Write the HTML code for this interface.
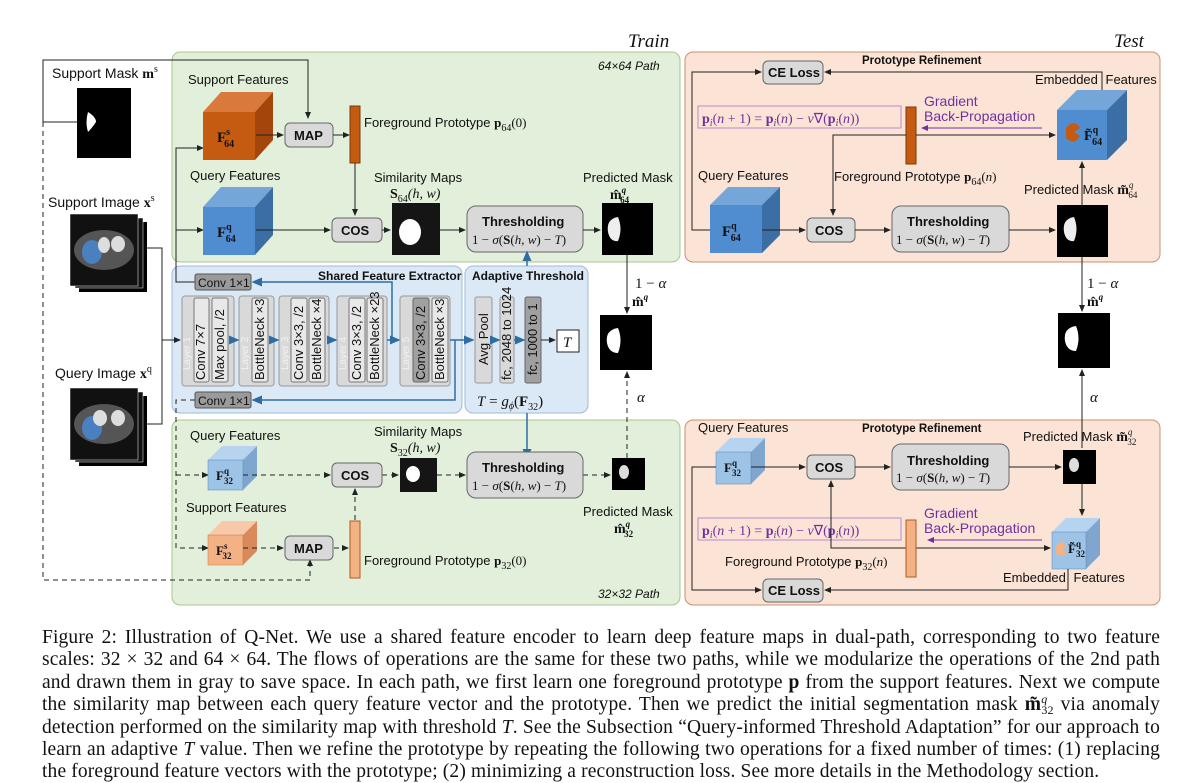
<!DOCTYPE html>
<html><head><meta charset="utf-8"><style>
body{margin:0;background:#fff;width:1183px;height:783px;overflow:hidden;position:relative}
svg{position:absolute;left:0;top:0}
text{font-family:"Liberation Sans",sans-serif;font-size:13px;fill:#111}
.b{font-weight:bold}
.s{font-family:"Liberation Serif",serif}
.w{fill:#f2f2f2;font-size:10px}
.cap{position:absolute;left:42px;width:1118px;height:22px;font-family:"Liberation Serif",serif;font-size:19.5px;letter-spacing:0.14px;color:#111;text-align:justify;text-align-last:justify;white-space:nowrap;line-height:22px}
.cap.l{text-align-last:left}
.sp{position:relative;font-size:12px;line-height:0}
</style></head><body>
<svg width="1183" height="620" viewBox="0 0 1183 620">
<defs>
<marker id="a" markerWidth="7" markerHeight="7" refX="6" refY="3.5" orient="auto"><path d="M0,0.5L7,3.5L0,6.5z" fill="#222"/></marker>
<marker id="ab" markerWidth="7" markerHeight="7" refX="6" refY="3.5" orient="auto"><path d="M0,0.5L7,3.5L0,6.5z" fill="#2e6da4"/></marker>
<marker id="ap" markerWidth="7" markerHeight="7" refX="6" refY="3.5" orient="auto"><path d="M0,0.5L7,3.5L0,6.5z" fill="#7030a0"/></marker>
</defs>
<rect x="172" y="52" width="508" height="210" rx="8" fill="#e2efda" stroke="#a9c48f"/>
<rect x="172" y="420" width="508" height="185" rx="8" fill="#e2efda" stroke="#a9c48f"/>
<rect x="685" y="52" width="475" height="210" rx="8" fill="#fbe3d6" stroke="#c9906f"/>
<rect x="685" y="420" width="475" height="185" rx="8" fill="#fbe3d6" stroke="#c9906f"/>
<rect x="172" y="266" width="290" height="147" rx="8" fill="#dbe8f5" stroke="#9dbbd8"/>
<rect x="465" y="266" width="123" height="147" rx="8" fill="#dbe8f5" stroke="#9dbbd8"/>
<text x="628" y="47" class="s" style="font-size:19px;font-style:italic">Train</text>
<text x="1114" y="47" class="s" style="font-size:19px;font-style:italic">Test</text>
<text x="598" y="70" style="font-size:12px;font-style:italic">64×64 Path</text>
<text x="598" y="598" style="font-size:12px;font-style:italic">32×32 Path</text>

<text x="52" y="78" style="font-size:14px">Support Mask <tspan class="s b">m</tspan><tspan class="s" dy="-6" style="font-size:10px">s</tspan></text>
<rect x="77" y="88" width="54" height="70" fill="#000"/>
<path d="M88,112 q8,5 8,10 q-4,6 -8,10 q-3,-10 0,-20z" fill="#fff"/>
<text x="48" y="207" style="font-size:14px">Support Image <tspan class="s b">x</tspan><tspan class="s" dy="-6" style="font-size:10px">s</tspan></text>
<rect x="79" y="222" width="68" height="70" fill="#000"/><rect x="75" y="218" width="68" height="70" fill="#111" stroke="#fff" stroke-width="0.5"/><rect x="70" y="214" width="68" height="72" fill="#111" stroke="#fff" stroke-width="0.5"/>
<ellipse cx="104" cy="250" rx="30" ry="20" fill="#555"/><ellipse cx="92" cy="252" rx="10" ry="12" fill="#4a7fc0"/><ellipse cx="104" cy="245" rx="6" ry="8" fill="#ddd"/><ellipse cx="118" cy="244" rx="7" ry="8" fill="#ddd"/>
<text x="55" y="378" style="font-size:14px">Query Image <tspan class="s b">x</tspan><tspan class="s" dy="-6" style="font-size:10px">q</tspan></text>
<rect x="79" y="396" width="68" height="70" fill="#000"/><rect x="75" y="392" width="68" height="70" fill="#111" stroke="#fff" stroke-width="0.5"/><rect x="70" y="388" width="68" height="72" fill="#111" stroke="#fff" stroke-width="0.5"/>
<ellipse cx="104" cy="424" rx="30" ry="20" fill="#555"/><ellipse cx="92" cy="428" rx="10" ry="12" fill="#4a7fc0"/><ellipse cx="100" cy="418" rx="7" ry="8" fill="#ddd"/><ellipse cx="118" cy="418" rx="7" ry="8" fill="#ddd"/>
<path d="M77,122H43V60H308V118" fill="none" stroke="#222" marker-end="url(#a)"/>
<path d="M43,122V580H310V560" fill="none" stroke="#222" stroke-dasharray="5,4" marker-end="url(#a)"/>
<path d="M147,248H162V340H180" fill="none" stroke="#222" marker-end="url(#a)"/>
<path d="M147,424H162V340" fill="none" stroke="#222"/>
<path d="M195,282H176V148H203" fill="none" stroke="#222" marker-end="url(#a)"/>
<path d="M176,230H203" fill="none" stroke="#222" marker-end="url(#a)"/>
<path d="M195,400H176V548H208" fill="none" stroke="#222" stroke-dasharray="5,4" marker-end="url(#a)"/>
<path d="M176,475H208" fill="none" stroke="#222" stroke-dasharray="5,4" marker-end="url(#a)"/>

<text x="188" y="84">Support Features</text>
<polygon points="203,112 221,92 273,92 255,112" fill="#d97a3c"/><polygon points="255,112 273,92 273,140 255,160" fill="#a4460c"/><rect x="203" y="112" width="52" height="48" fill="#c55a11"/>
<text x="217" y="142" class="s b" style="font-size:15px">F<tspan dy="-7" style="font-size:10px">s</tspan><tspan dx="-6" dy="12" style="font-size:10px">64</tspan></text>
<text x="190" y="180">Query Features</text>
<polygon points="203,207 221,187 273,187 255,207" fill="#74a6d9"/><polygon points="255,207 273,187 273,235 255,255" fill="#3a6ea5"/><rect x="203" y="207" width="52" height="48" fill="#4f8dd0"/>
<text x="217" y="237" class="s b" style="font-size:15px">F<tspan dy="-7" style="font-size:10px">q</tspan><tspan dx="-6" dy="12" style="font-size:10px">64</tspan></text>
<line x1="256" y1="135" x2="283" y2="135" stroke="#222" marker-end="url(#a)"/>
<rect x="285" y="123" width="48" height="24" rx="5" fill="#d9d9d9" stroke="#666"/><text x="294" y="140" class="b">MAP</text>
<line x1="333" y1="135" x2="349" y2="135" stroke="#222" marker-end="url(#a)"/>
<rect x="350" y="106" width="10" height="57" fill="#c55a11" stroke="#7a3a0c"/>
<text x="364" y="127">Foreground Prototype <tspan class="s b">p</tspan><tspan class="s" dy="4" style="font-size:10px">64</tspan><tspan class="s" dy="-4">(0)</tspan></text>
<line x1="355" y1="163" x2="355" y2="215" stroke="#222" marker-end="url(#a)"/>
<line x1="256" y1="230" x2="330" y2="230" stroke="#222" marker-end="url(#a)"/>
<rect x="332" y="218" width="50" height="24" rx="5" fill="#d9d9d9" stroke="#666"/><text x="341" y="235" class="b">COS</text>
<text x="374" y="182">Similarity Maps</text>
<text x="390" y="198" class="s" style="font-size:14px"><tspan class="b">S</tspan><tspan dy="4" style="font-size:10px">64</tspan><tspan dy="-4" font-style="italic">(h, w)</tspan></text>
<line x1="382" y1="230" x2="390" y2="230" stroke="#222" marker-end="url(#a)"/>
<rect x="392" y="203" width="48" height="52" fill="#151515"/><ellipse cx="410" cy="232" rx="11" ry="13" fill="#fff"/>
<line x1="440" y1="230" x2="465" y2="230" stroke="#222" marker-end="url(#a)"/>
<rect x="467" y="206" width="116" height="46" rx="9" fill="#d9d9d9" stroke="#666"/>
<text x="482" y="226" class="b">Thresholding</text>
<text x="472" y="244" class="s" style="font-size:13px">1 − <tspan font-style="italic">σ</tspan>(<tspan class="b">S</tspan>(<tspan font-style="italic">h, w</tspan>) − <tspan font-style="italic">T</tspan>)</text>
<line x1="583" y1="230" x2="600" y2="230" stroke="#222" marker-end="url(#a)"/>
<text x="583" y="182">Predicted Mask</text>
<text x="610" y="199" class="s b" style="font-size:14px">m̂<tspan dy="-6" style="font-size:9px;font-style:italic">q</tspan><tspan dx="-6" dy="10" style="font-size:9px">64</tspan></text>
<rect x="602" y="203" width="51" height="52" fill="#000"/><path d="M618,217 q-12,2 -10,15 q2,10 10,9 q5,-12 0,-24z" fill="#eee"/>
<line x1="627" y1="255" x2="627" y2="313" stroke="#222" marker-end="url(#a)"/>
<text x="635" y="288" class="s" style="font-size:15px">1 − <tspan font-style="italic">α</tspan></text>
<text x="632" y="306" class="s b" style="font-size:14px">m̂<tspan dy="-6" style="font-size:9px;font-style:italic">q</tspan></text>
<rect x="600" y="315" width="52" height="55" fill="#000"/><path d="M618,328 q-13,2 -11,15 q2,10 11,10 q5,-13 0,-25z" fill="#fff"/>
<line x1="627" y1="458" x2="627" y2="372" stroke="#222" stroke-dasharray="5,4" marker-end="url(#a)"/>
<text x="637" y="402" class="s" style="font-size:15px;font-style:italic">α</text>

<text x="318" y="280" class="b" style="font-size:12px">Shared Feature Extractor</text>
<text x="472" y="280" class="b" style="font-size:12px">Adaptive Threshold</text>
<rect x="195" y="274" width="56" height="16" rx="2" fill="#9a9a9a" stroke="#555"/><text x="198" y="287" style="font-size:12px">Conv 1×1</text>
<rect x="195" y="392" width="56" height="16" rx="2" fill="#9a9a9a" stroke="#555"/><text x="198" y="405" style="font-size:12px">Conv 1×1</text>
<g fill="#d9d9d9" stroke="#999">
<rect x="182" y="296" width="52" height="90" rx="3"/><rect x="239" y="296" width="35" height="90" rx="3"/><rect x="279" y="296" width="50" height="90" rx="3"/><rect x="337" y="296" width="50" height="90" rx="3"/><rect x="400" y="296" width="50" height="90" rx="3"/>
<rect x="475" y="297" width="17" height="86" rx="2"/><rect x="500" y="297" width="14" height="86" rx="2"/>
</g>
<g fill="#e8e8e8" stroke="#777">
<rect x="194" y="298" width="15" height="84" rx="2"/><rect x="212" y="298" width="16" height="84" rx="2"/><rect x="252" y="298" width="16" height="84" rx="2"/><rect x="291" y="298" width="16" height="84" rx="2"/><rect x="309" y="298" width="16" height="84" rx="2"/><rect x="349" y="298" width="16" height="84" rx="2"/><rect x="367" y="298" width="16" height="84" rx="2"/><rect x="432" y="298" width="16" height="84" rx="2"/>
</g>
<rect x="413" y="298" width="16" height="84" rx="2" fill="#a0a0a0" stroke="#666"/>
<rect x="525" y="297" width="16" height="86" rx="2" fill="#a0a0a0" stroke="#666"/>
<g style="font-size:11px">
<text transform="translate(205,380) rotate(-90)">Conv 7×7</text>
<text transform="translate(224,380) rotate(-90)">Max pool, /2</text>
<text transform="translate(264,380) rotate(-90)">BottleNeck ×3</text>
<text transform="translate(303,380) rotate(-90)">Conv 3×3, /2</text>
<text transform="translate(321,380) rotate(-90)">BottleNeck ×4</text>
<text transform="translate(361,380) rotate(-90)">Conv 3×3, /2</text>
<text transform="translate(379,380) rotate(-90)">BottleNeck ×23</text>
<text transform="translate(425,380) rotate(-90)">Conv 3×3, /2</text>
<text transform="translate(444,380) rotate(-90)">BottleNeck ×3</text>
<text transform="translate(488,365) rotate(-90)">Avg Pool</text>
<text transform="translate(511,380) rotate(-90)">fc, 2048 to 1024</text>
<text transform="translate(537,375) rotate(-90)">fc, 1000 to 1</text>
</g>
<text class="w" transform="translate(190,370) rotate(-90)">Layer 1</text><text class="w" transform="translate(248,370) rotate(-90)">Layer 2</text><text class="w" transform="translate(288,370) rotate(-90)">Layer 3</text><text class="w" transform="translate(346,370) rotate(-90)">Layer 4</text><text class="w" transform="translate(409,370) rotate(-90)">Layer 5</text>
<g stroke="#2e6da4" stroke-width="1.5" fill="none">
<line x1="234" y1="340" x2="238" y2="340" marker-end="url(#ab)"/><line x1="274" y1="340" x2="278" y2="340" marker-end="url(#ab)"/><line x1="329" y1="340" x2="336" y2="340" marker-end="url(#ab)"/><line x1="387" y1="340" x2="399" y2="340" marker-end="url(#ab)"/><line x1="450" y1="340" x2="473" y2="340" marker-end="url(#ab)"/><line x1="492" y1="340" x2="499" y2="340" marker-end="url(#ab)"/><line x1="514" y1="340" x2="524" y2="340" marker-end="url(#ab)"/>
<path d="M392,340V282H253" marker-end="url(#ab)"/><path d="M455,340V400H253" marker-end="url(#ab)"/>
<path d="M527,266V252" marker-end="url(#ab)"/><path d="M527,413V458" marker-end="url(#ab)"/>
</g>
<line x1="541" y1="340" x2="555" y2="340" stroke="#222" marker-end="url(#a)"/>
<rect x="557" y="330" width="22" height="22" fill="#fff" stroke="#222"/><text x="563" y="347" class="s" style="font-size:15px;font-style:italic">T</text>
<text x="477" y="406" class="s" style="font-size:15px"><tspan font-style="italic">T</tspan> = <tspan font-style="italic">g<tspan dy="3" style="font-size:10px">ϕ</tspan></tspan><tspan dy="-3">(</tspan><tspan class="b">F</tspan><tspan dy="4" style="font-size:10px">32</tspan><tspan dy="-4">)</tspan></text>

<text x="190" y="440">Query Features</text>
<polygon points="208,460 222,446 257,446 243,460" fill="#b6d4ef"/><polygon points="243,460 257,446 257,476 243,490" fill="#7ea6cf"/><rect x="208" y="460" width="35" height="30" fill="#9dc3e6" stroke="#5a86b3" stroke-width="0.5"/>
<text x="216" y="480" class="s b" style="font-size:13px">F<tspan dy="-6" style="font-size:9px">q</tspan><tspan dx="-5" dy="10" style="font-size:9px">32</tspan></text>
<text x="186" y="512">Support Features</text>
<polygon points="208,535 222,521 257,521 243,535" fill="#f8c9a8"/><polygon points="243,535 257,521 257,551 243,565" fill="#d9895a"/><rect x="208" y="535" width="35" height="30" fill="#f4b183" stroke="#c47a48" stroke-width="0.5"/>
<text x="216" y="555" class="s b" style="font-size:13px">F<tspan dy="-6" style="font-size:9px">s</tspan><tspan dx="-5" dy="10" style="font-size:9px">32</tspan></text>
<g stroke="#222" stroke-dasharray="5,4" fill="none">
<line x1="243" y1="475" x2="330" y2="475" marker-end="url(#a)"/>
<line x1="243" y1="548" x2="283" y2="548" marker-end="url(#a)"/>
<line x1="334" y1="548" x2="348" y2="548" marker-end="url(#a)"/>
<line x1="355" y1="520" x2="355" y2="489" marker-end="url(#a)"/>
<line x1="382" y1="475" x2="398" y2="475" marker-end="url(#a)"/>
<line x1="437" y1="475" x2="465" y2="475" marker-end="url(#a)"/>
<line x1="583" y1="475" x2="610" y2="475" marker-end="url(#a)"/>
</g>
<rect x="332" y="463" width="50" height="24" rx="5" fill="#d9d9d9" stroke="#666"/><text x="341" y="480" class="b">COS</text>
<text x="374" y="436">Similarity Maps</text>
<text x="390" y="452" class="s" style="font-size:14px"><tspan class="b">S</tspan><tspan dy="4" style="font-size:10px">32</tspan><tspan dy="-4" font-style="italic">(h, w)</tspan></text>
<rect x="400" y="458" width="37" height="34" fill="#151515"/><ellipse cx="413" cy="474" rx="7" ry="8" fill="#fff"/>
<rect x="467" y="452" width="116" height="46" rx="9" fill="#d9d9d9" stroke="#666"/>
<text x="482" y="472" class="b">Thresholding</text>
<text x="472" y="490" class="s" style="font-size:13px">1 − <tspan font-style="italic">σ</tspan>(<tspan class="b">S</tspan>(<tspan font-style="italic">h, w</tspan>) − <tspan font-style="italic">T</tspan>)</text>
<rect x="612" y="458" width="33" height="32" fill="#000"/><ellipse cx="624" cy="472" rx="5" ry="7" fill="#ddd"/>
<text x="583" y="516">Predicted Mask</text>
<text x="614" y="533" class="s b" style="font-size:14px">m̂<tspan dy="-6" style="font-size:9px;font-style:italic">q</tspan><tspan dx="-6" dy="10" style="font-size:9px">32</tspan></text>
<rect x="285" y="536" width="48" height="24" rx="5" fill="#d9d9d9" stroke="#666"/><text x="294" y="553" class="b">MAP</text>
<rect x="350" y="521" width="10" height="57" fill="#f4b183" stroke="#b05a20"/>
<text x="364" y="565">Foreground Prototype <tspan class="s b">p</tspan><tspan class="s" dy="4" style="font-size:10px">32</tspan><tspan class="s" dy="-4">(0)</tspan></text>

<text x="862" y="64" class="b" style="font-size:11.5px">Prototype Refinement</text>
<rect x="763" y="61" width="60" height="23" rx="5" fill="#d9d9d9" stroke="#666"/><text x="768" y="77" class="b">CE Loss</text>
<path d="M1102,92V72H825" fill="none" stroke="#222" marker-end="url(#a)"/>
<path d="M710,230H692V72H761" fill="none" stroke="#222" marker-end="url(#a)"/>
<text x="1035" y="84">Embedded <tspan dx="4">Features</tspan></text>
<polygon points="1057,110 1077,90 1127,90 1107,110" fill="#74a6d9"/><polygon points="1107,110 1127,90 1127,140 1107,160" fill="#3a6ea5"/><rect x="1057" y="110" width="50" height="50" fill="#4f8dd0"/>
<path d="M1066,128 q8,-10 14,0 l-6,4 l6,4 q-6,10 -14,2z" fill="#c55a11"/>
<text x="1084" y="140" class="s b" style="font-size:14px">F̃<tspan dy="-7" style="font-size:10px">q</tspan><tspan dx="-6" dy="12" style="font-size:10px">64</tspan></text>
<text x="924" y="106" style="font-size:14px;fill:#7030a0">Gradient</text>
<text x="924" y="121" style="font-size:14px;fill:#7030a0">Back-Propagation</text>
<line x1="1042" y1="128" x2="922" y2="128" stroke="#7030a0" marker-end="url(#ap)"/>
<rect x="698" y="106" width="203" height="22" fill="none" stroke="#b68bd0"/>
<text x="702" y="123" class="s" style="font-size:14px;fill:#7030a0"><tspan class="b">p</tspan><tspan dy="3" font-style="italic" style="font-size:10px">i</tspan><tspan dy="-3">(</tspan><tspan font-style="italic">n</tspan> + 1) = <tspan class="b">p</tspan><tspan dy="3" font-style="italic" style="font-size:10px">i</tspan><tspan dy="-3">(</tspan><tspan font-style="italic">n</tspan>) − <tspan font-style="italic">v</tspan>∇(<tspan class="b">p</tspan><tspan dy="3" font-style="italic" style="font-size:10px">i</tspan><tspan dy="-3">(</tspan><tspan font-style="italic">n</tspan>))</text>
<rect x="906" y="107" width="10" height="57" fill="#c55a11" stroke="#7a3a0c"/>
<path d="M916,135H1055" fill="none" stroke="#222" marker-end="url(#a)"/>
<path d="M906,135H833V215" fill="none" stroke="#222" marker-end="url(#a)"/>
<text x="834" y="181">Foreground Prototype <tspan class="s b">p</tspan><tspan class="s" dy="4" style="font-size:10px">64</tspan><tspan class="s" dy="-4">(<tspan font-style="italic">n</tspan>)</tspan></text>
<text x="698" y="180">Query Features</text>
<polygon points="710,205 728,187 780,187 762,205" fill="#74a6d9"/><polygon points="762,205 780,187 780,235 762,253" fill="#3a6ea5"/><rect x="710" y="205" width="52" height="48" fill="#4f8dd0"/>
<text x="722" y="236" class="s b" style="font-size:15px">F<tspan dy="-7" style="font-size:10px">q</tspan><tspan dx="-6" dy="12" style="font-size:10px">64</tspan></text>
<line x1="762" y1="230" x2="805" y2="230" stroke="#222" marker-end="url(#a)"/>
<rect x="807" y="218" width="48" height="24" rx="5" fill="#d9d9d9" stroke="#666"/><text x="815" y="235" class="b">COS</text>
<line x1="855" y1="230" x2="890" y2="230" stroke="#222" marker-end="url(#a)"/>
<rect x="892" y="206" width="117" height="46" rx="9" fill="#d9d9d9" stroke="#666"/>
<text x="907" y="226" class="b">Thresholding</text>
<text x="896" y="244" class="s" style="font-size:13px">1 − <tspan font-style="italic">σ</tspan>(<tspan class="b">S</tspan>(<tspan font-style="italic">h, w</tspan>) − <tspan font-style="italic">T</tspan>)</text>
<line x1="1009" y1="230" x2="1055" y2="230" stroke="#222" marker-end="url(#a)"/>
<text x="1024" y="194">Predicted Mask <tspan class="s b" style="font-size:14px">m̃</tspan><tspan class="s" dy="-6" style="font-size:9px;font-style:italic">q</tspan><tspan class="s" dx="-5" dy="10" style="font-size:9px">64</tspan></text>
<rect x="1057" y="205" width="51" height="52" fill="#000"/><path d="M1074,217 q-12,2 -10,15 q2,10 10,9 q5,-12 0,-24z" fill="#eee"/>
<line x1="1082" y1="205" x2="1082" y2="162" stroke="#222" marker-end="url(#a)"/>
<line x1="1082" y1="257" x2="1082" y2="311" stroke="#222" marker-end="url(#a)"/>
<text x="1087" y="288" class="s" style="font-size:15px">1 − <tspan font-style="italic">α</tspan></text>
<text x="1087" y="306" class="s b" style="font-size:14px">m̂<tspan dy="-6" style="font-size:9px;font-style:italic">q</tspan></text>
<rect x="1058" y="313" width="52" height="55" fill="#000"/><path d="M1076,326 q-13,2 -11,15 q2,10 11,10 q5,-13 0,-25z" fill="#fff"/>
<line x1="1082" y1="448" x2="1082" y2="370" stroke="#222" marker-end="url(#a)"/>
<text x="1090" y="402" class="s" style="font-size:15px;font-style:italic">α</text>

<text x="698" y="432">Query Features</text>
<text x="862" y="432" class="b" style="font-size:11.5px">Prototype Refinement</text>
<polygon points="716,452 730,438 765,438 751,452" fill="#b6d4ef"/><polygon points="751,452 765,438 765,470 751,484" fill="#7ea6cf"/><rect x="716" y="452" width="35" height="32" fill="#9dc3e6" stroke="#5a86b3" stroke-width="0.5"/>
<text x="724" y="472" class="s b" style="font-size:13px">F<tspan dy="-6" style="font-size:9px">q</tspan><tspan dx="-5" dy="10" style="font-size:9px">32</tspan></text>
<path d="M716,467H692V590H761" fill="none" stroke="#222" marker-end="url(#a)"/>
<line x1="751" y1="467" x2="805" y2="467" stroke="#222" marker-end="url(#a)"/>
<rect x="807" y="455" width="48" height="24" rx="5" fill="#d9d9d9" stroke="#666"/><text x="815" y="472" class="b">COS</text>
<line x1="855" y1="467" x2="890" y2="467" stroke="#222" marker-end="url(#a)"/>
<rect x="892" y="444" width="117" height="46" rx="9" fill="#d9d9d9" stroke="#666"/>
<text x="907" y="465" class="b">Thresholding</text>
<text x="896" y="482" class="s" style="font-size:13px">1 − <tspan font-style="italic">σ</tspan>(<tspan class="b">S</tspan>(<tspan font-style="italic">h, w</tspan>) − <tspan font-style="italic">T</tspan>)</text>
<line x1="1009" y1="467" x2="1061" y2="467" stroke="#222" marker-end="url(#a)"/>
<text x="1023" y="441">Predicted Mask <tspan class="s b" style="font-size:14px">m̃</tspan><tspan class="s" dy="-6" style="font-size:9px;font-style:italic">q</tspan><tspan class="s" dx="-5" dy="10" style="font-size:9px">32</tspan></text>
<rect x="1063" y="450" width="33" height="34" fill="#000"/><ellipse cx="1074" cy="465" rx="5" ry="7" fill="#ddd"/>
<line x1="1082" y1="484" x2="1082" y2="515" stroke="#222" marker-end="url(#a)"/>
<polygon points="1052,532 1066,518 1100,518 1086,532" fill="#b6d4ef"/><polygon points="1086,532 1100,518 1100,555 1086,569" fill="#7ea6cf"/><rect x="1052" y="532" width="34" height="37" fill="#9dc3e6" stroke="#5a86b3" stroke-width="0.5"/>
<path d="M1056,546 q6,-8 11,0 l-5,3 l5,3 q-5,8 -11,1z" fill="#f4b183"/>
<text x="1068" y="553" class="s b" style="font-size:13px">F̃<tspan dy="-6" style="font-size:9px">q</tspan><tspan dx="-5" dy="10" style="font-size:9px">32</tspan></text>
<text x="1003" y="582">Embedded <tspan dx="4">Features</tspan></text>
<path d="M1068,569V590H825" fill="none" stroke="#222" marker-end="url(#a)"/>
<rect x="763" y="579" width="60" height="23" rx="5" fill="#d9d9d9" stroke="#666"/><text x="768" y="595" class="b">CE Loss</text>
<text x="924" y="518" style="font-size:14px;fill:#7030a0">Gradient</text>
<text x="924" y="533" style="font-size:14px;fill:#7030a0">Back-Propagation</text>
<line x1="1042" y1="540" x2="928" y2="540" stroke="#7030a0" marker-end="url(#ap)"/>
<rect x="698" y="518" width="203" height="22" fill="none" stroke="#b68bd0"/>
<text x="702" y="535" class="s" style="font-size:14px;fill:#7030a0"><tspan class="b">p</tspan><tspan dy="3" font-style="italic" style="font-size:10px">i</tspan><tspan dy="-3">(</tspan><tspan font-style="italic">n</tspan> + 1) = <tspan class="b">p</tspan><tspan dy="3" font-style="italic" style="font-size:10px">i</tspan><tspan dy="-3">(</tspan><tspan font-style="italic">n</tspan>) − <tspan font-style="italic">v</tspan>∇(<tspan class="b">p</tspan><tspan dy="3" font-style="italic" style="font-size:10px">i</tspan><tspan dy="-3">(</tspan><tspan font-style="italic">n</tspan>))</text>
<path d="M911,548H1050" fill="none" stroke="#222" marker-end="url(#a)"/>
<path d="M906,548H831V481" fill="none" stroke="#222" marker-end="url(#a)"/>
<rect x="906" y="520" width="10" height="57" fill="#f4b183" stroke="#b05a20"/>
<text x="725" y="566">Foreground Prototype <tspan class="s b">p</tspan><tspan class="s" dy="4" style="font-size:10px">32</tspan><tspan class="s" dy="-4">(<tspan font-style="italic">n</tspan>)</tspan></text>
</svg>
<div class="cap" style="top:627px">Figure 2: Illustration of Q-Net. We use a shared feature encoder to learn deep feature maps in dual-path, corresponding to two feature</div>
<div class="cap" style="top:649px">scales: 32 × 32 and 64 × 64. The flows of operations are the same for these two paths, while we modularize the operations of the 2nd path</div>
<div class="cap" style="top:672px">and drawn them in gray to save space. In each path, we first learn one foreground prototype <b>p</b> from the support features. Next we compute</div>
<div class="cap" style="top:694px">the similarity map between each query feature vector and the prototype. Then we predict the initial segmentation mask <b>m̃</b><span class="sp" style="top:-7px"><i>q</i></span><span class="sp" style="top:4px;margin-left:-6px">32</span> via anomaly</div>
<div class="cap" style="top:717px">detection performed on the similarity map with threshold <i>T</i>. See the Subsection “Query-informed Threshold Adaptation” for our approach to</div>
<div class="cap" style="top:739px">learn an adaptive <i>T</i> value. Then we refine the prototype by repeating the following two operations for a fixed number of times: (1) replacing</div>
<div class="cap l" style="top:761px">the foreground feature vectors with the prototype; (2) minimizing a reconstruction loss. See more details in the Methodology section.</div>
</body></html>
